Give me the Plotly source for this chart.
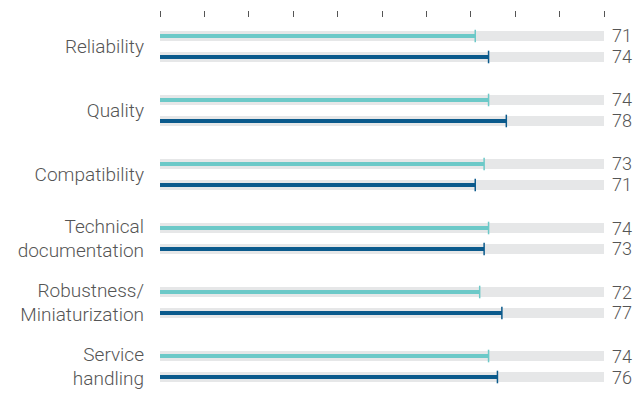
import plotly.graph_objects as go

# Survey ratings per category (0-100 scale)
categories = [
    "Reliability",
    "Quality",
    "Compatibility",
    "Technical<br>documentation",
    "Robustness/<br>Miniaturization",
    "Service<br>handling",
]
series_a = [71, 74, 73, 74, 72, 74]   # light teal series (upper line)
series_b = [74, 78, 71, 73, 77, 76]   # dark blue series (lower line)
x_ticks = [0, 10, 20, 30, 40, 50, 60, 70, 80, 90, 100]

TEAL = "#6cc9c8"
BLUE = "#0b5a8c"
TRACK = "#e6e7e8"
TEXT = "#555555"
FONT = "Roboto"
WEIGHT = 300

offset = 0.164
idx = list(range(len(categories)))
y_a = [i - offset for i in idx]
y_b = [i + offset for i in idx]

fig = go.Figure()

# grey tracks behind each line
fig.add_trace(go.Bar(
    x=[100] * (2 * len(idx)), y=y_a + y_b, orientation="h",
    width=0.16, marker=dict(color=TRACK, line=dict(width=0)),
    hoverinfo="skip", showlegend=False,
))
# value lines
for ys, vals, col in [(y_a, series_a, TEAL), (y_b, series_b, BLUE)]:
    fig.add_trace(go.Bar(
        x=vals, y=ys, orientation="h", width=0.05,
        marker=dict(color=col, line=dict(width=0)),
        showlegend=False,
    ))
    # end caps
    fig.add_trace(go.Scatter(
        x=vals, y=ys, mode="markers",
        marker=dict(symbol="line-ns", size=9, line=dict(color=col, width=1.5)),
        hoverinfo="skip", showlegend=False, cliponaxis=False,
    ))

# value labels at the right end of each track
for ys, vals in [(y_a, series_a), (y_b, series_b)]:
    for y, v in zip(ys, vals):
        fig.add_annotation(
            x=100, y=y, text=str(v), xanchor="left", yanchor="middle",
            xshift=7, showarrow=False, borderpad=0,
            font=dict(family=FONT, size=18, color=TEXT, weight=WEIGHT),
        )

fig.update_layout(
    width=644, height=393,
    margin=dict(l=160, r=40, t=18, b=0),
    paper_bgcolor="white", plot_bgcolor="white",
    barmode="overlay", bargap=0,
    font=dict(family=FONT, size=19, color=TEXT, weight=WEIGHT),
    xaxis=dict(
        range=[0, 100], side="top", tickvals=x_ticks,
        ticks="outside", ticklen=6, tickwidth=1, tickcolor="#555555",
        showticklabels=False, showgrid=False, zeroline=False,
        showline=False, fixedrange=True,
    ),
    yaxis=dict(
        range=[5.414, -0.445], tickvals=idx, ticktext=categories,
        ticks="", showgrid=False, zeroline=False, showline=False,
        ticklabelstandoff=15, automargin=False, fixedrange=True,
        tickfont=dict(family=FONT, size=19, color=TEXT, weight=WEIGHT),
    ),
)

fig.write_html("out.html")
